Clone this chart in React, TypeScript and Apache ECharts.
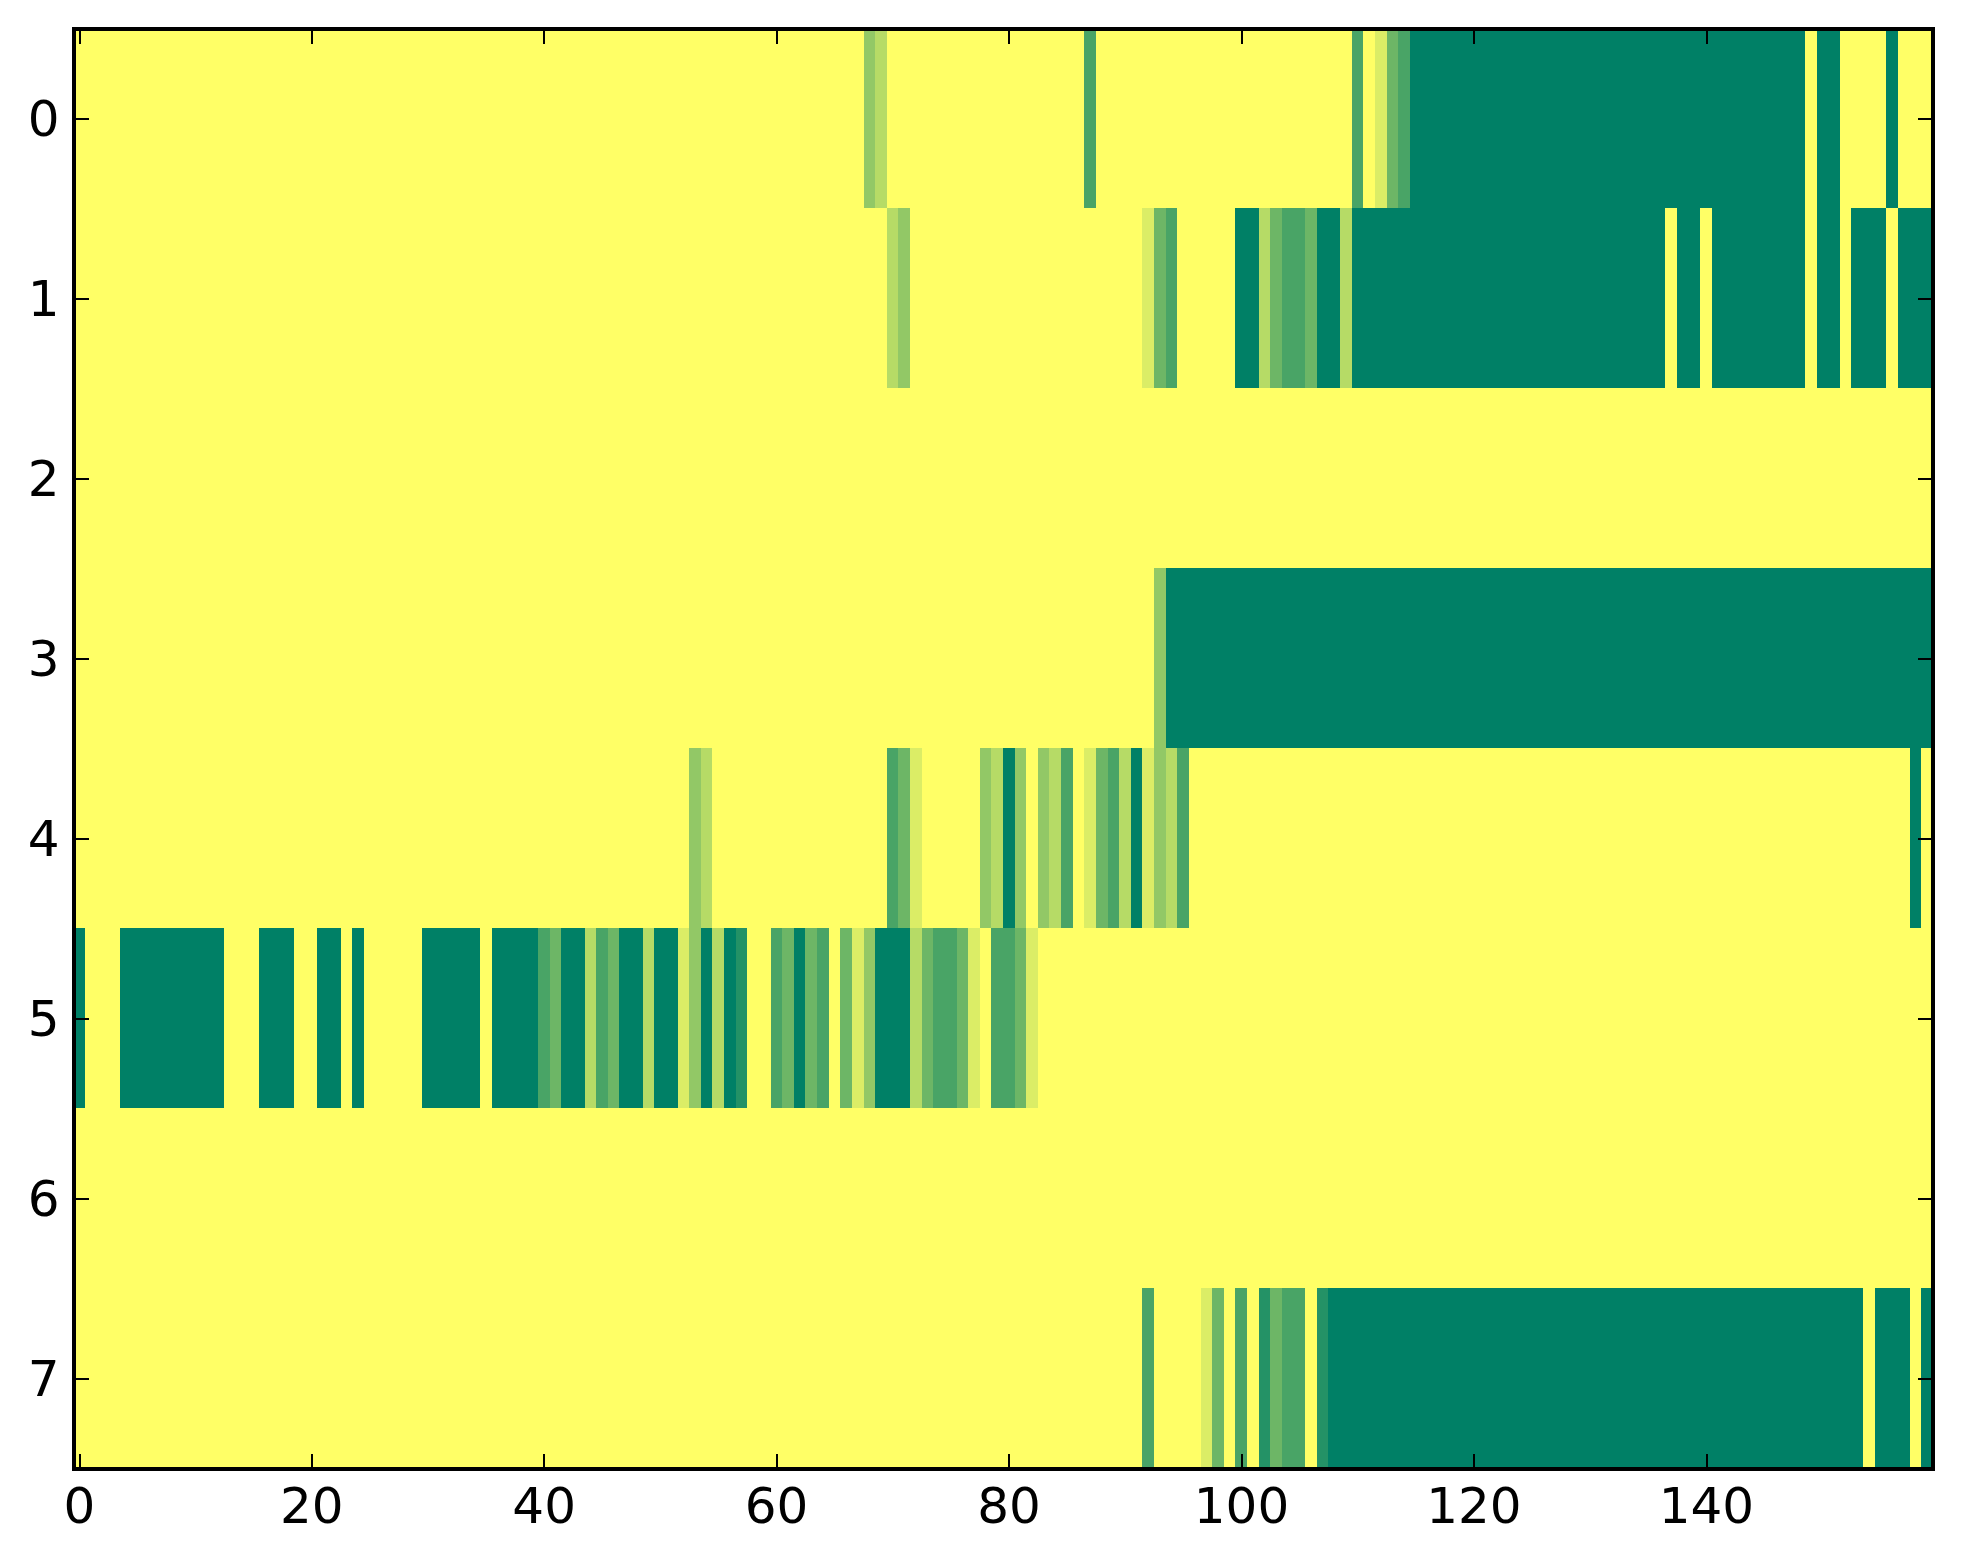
import React, { useEffect, useRef } from "react";
import * as echarts from "echarts";

const xTickEvery = 20;
const columns = Array.from({ length: 160 }, (_, i) => String(i));
const rowLabels = ["0", "1", "2", "3", "4", "5", "6", "7"];
const levelColors = ["#ffff66", "#dbed66", "#b6db66", "#92c866", "#6db666", "#49a466", "#249266", "#008066"];

// Each row: [level, run length] pairs.
const row0 = [[0,68],[3,1],[2,1],[0,17],[5,1],[0,22],[5,1],[0,1],[1,1],[4,1],[5,1],[7,34],[0,1],[7,2],[0,4],[7,1],[0,3]];
const row1 = [[0,70],[2,1],[3,1],[0,20],[1,1],[4,1],[5,1],[0,5],[7,2],[2,1],[4,1],[5,2],[4,1],[7,2],[2,1],[7,27],[0,1],[7,2],[0,1],[7,8],[0,1],[7,2],[0,1],[7,3],[0,1],[7,3]];
const row2 = [[0,160]];
const row3 = [[0,93],[3,1],[7,66]];
const row4 = [[0,53],[3,1],[2,1],[0,15],[5,1],[4,1],[1,1],[0,5],[3,1],[2,1],[7,1],[3,1],[0,1],[3,1],[2,1],[5,1],[0,1],[1,1],[4,1],[5,1],[2,1],[7,1],[1,1],[3,1],[2,1],[5,1],[0,62],[7,1],[0,1]];
const row5 = [[7,1],[0,3],[7,9],[0,3],[7,3],[0,2],[7,2],[0,1],[7,1],[0,5],[7,5],[0,1],[7,4],[5,1],[4,1],[7,2],[2,1],[5,1],[4,1],[7,2],[2,1],[7,2],[1,1],[3,1],[7,1],[2,1],[7,1],[6,1],[0,2],[5,1],[4,1],[7,1],[4,1],[5,1],[0,1],[4,1],[1,1],[3,1],[7,3],[2,1],[4,1],[5,2],[4,1],[1,1],[0,1],[5,2],[4,1],[1,1],[0,77]];
const row6 = [[0,160]];
const row7 = [[0,92],[5,1],[0,4],[1,1],[4,1],[0,1],[5,1],[0,1],[6,1],[4,1],[5,2],[0,1],[6,1],[7,46],[0,1],[7,3],[0,1],[7,1]];
const rows = [row0, row1, row2, row3, row4, row5, row6, row7];

function cells(): number[][] {
  const out: number[][] = [];
  rows.forEach((runs, y) => {
    let x = 0;
    runs.forEach(([level, count]) => {
      for (let k = 0; k < count; k++) out.push([x++, y, level]);
    });
  });
  return out;
}

const font = { fontFamily: "DejaVu Sans", fontSize: 50, color: "#000" };
const spine = { show: true, onZero: false, lineStyle: { color: "#000", width: 4, cap: "square" } };
const isTick = (i: number) => i % xTickEvery === 0;

export default function App() {
  const ref = useRef<HTMLDivElement>(null);
  useEffect(() => {
    const chart = echarts.init(ref.current!, undefined, { renderer: "svg" });
    const xTick = { show: true, inside: true, length: 15, alignWithLabel: true, interval: isTick, lineStyle: { color: "#000", width: 2 } };
    const yTick = { show: true, inside: true, length: 15, alignWithLabel: true, interval: 0, lineStyle: { color: "#000", width: 2 } };
    chart.setOption({
      animation: false,
      backgroundColor: "#fff",
      grid: { left: 73.5, right: 30, top: 28.5, bottom: 95.5, containLabel: false },
      visualMap: { show: false, type: "continuous", min: 0, max: 7, dimension: 2, seriesIndex: 0, inRange: { color: levelColors } },
      xAxis: [
        { type: "category", data: columns, position: "bottom", z: 10, axisLine: spine, axisTick: xTick, splitLine: { show: false },
          axisLabel: { ...font, interval: isTick, margin: 12 } },
        { type: "category", data: columns, position: "top", z: 10, axisLine: spine, axisTick: xTick, splitLine: { show: false }, axisLabel: { show: false } },
      ],
      yAxis: [
        { type: "category", data: rowLabels, inverse: true, position: "left", z: 10, axisLine: spine, axisTick: yTick, splitLine: { show: false },
          axisLabel: { ...font, interval: 0, margin: 14, padding: [0, 0, 8, 0] } },
        { type: "category", data: rowLabels, inverse: true, position: "right", z: 10, axisLine: spine, axisTick: yTick, splitLine: { show: false }, axisLabel: { show: false } },
      ],
      series: [
        { type: "heatmap", xAxisIndex: 0, yAxisIndex: 0, data: cells(), progressive: 0, silent: true, itemStyle: { borderWidth: 0 }, emphasis: { disabled: true } },
      ],
    });
    return () => chart.dispose();
  }, []);
  return <div ref={ref} style={{ position: "fixed", left: 0, top: 0, width: 1963, height: 1564, shapeRendering: "crispEdges" }} />;
}
